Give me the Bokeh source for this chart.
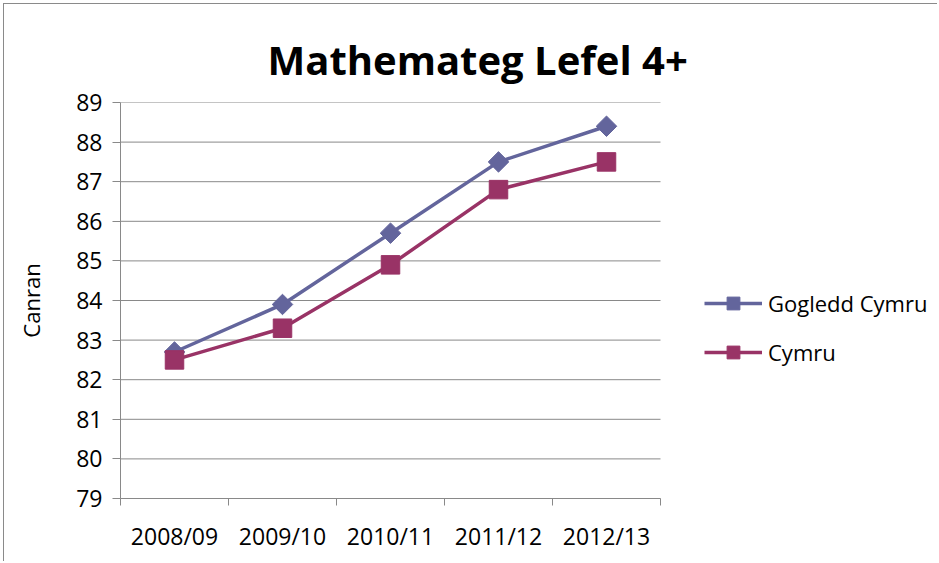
from bokeh.plotting import figure
from bokeh.models import (Range1d, FixedTicker, Legend, LegendItem, LinearAxis, InlineStyleSheet)
from bokeh.embed import file_html
from bokeh.resources import INLINE
import math

categories = ["2008/09", "2009/10", "2010/11", "2011/12", "2012/13"]
gogledd_cymru = [82.7, 83.9, 85.7, 87.5, 88.4]
cymru = [82.5, 83.3, 84.9, 86.8, 87.5]
y_ticks = [79, 80, 81, 82, 83, 84, 85, 86, 87, 88, 89]

FONT = "Open Sans"
GRID = "#898989"
C1 = "#63659C"
C2 = "#993366"

W, H = 934, 558
LEFT, TOP, BOTTOM = 116, 98, 64
PLOT_W = 540  # width of the data area in pixels
n = len(categories)
frame_w = W - LEFT
xs = [i + 0.5 for i in range(n)]

p = figure(width=W, height=H, output_backend="svg", toolbar_location=None,
           x_range=Range1d(0, n * frame_w / PLOT_W), y_range=Range1d(y_ticks[0], y_ticks[-1]),
           x_axis_type=None, y_axis_type=None, min_border=0,
           min_border_left=LEFT, min_border_right=0, min_border_top=TOP, min_border_bottom=BOTTOM)
p.outline_line_color = None
p.background_fill_color = "white"
p.border_fill_color = "white"
p.stylesheets = [InlineStyleSheet(css=":host { margin-left: 3px; margin-top: 3px; "
                                      "border-top: 1px solid #8a8a8a; border-left: 1px solid #8a8a8a; }")]

p.title.text = "Mathemateg Lefel 4+"
p.title.text_font = FONT
p.title.text_font_style = "bold"
p.title.text_font_size = "40px"
p.title.text_color = "black"
p.title.align = "left"
p.title.offset = 147
p.title.standoff = 31

yaxis = LinearAxis(ticker=FixedTicker(ticks=y_ticks, minor_ticks=[]))
yaxis.axis_label = "Canran"
yaxis.axis_label_text_font = FONT
yaxis.axis_label_text_font_size = "22px"
yaxis.axis_label_text_font_style = "normal"
yaxis.axis_label_text_color = "black"
yaxis.axis_label_standoff = 27
yaxis.major_label_text_font = FONT
yaxis.major_label_text_font_size = "23px"
yaxis.major_label_text_color = "black"
yaxis.major_label_standoff = 10
yaxis.major_tick_out = 8
yaxis.major_tick_in = 0
yaxis.minor_tick_out = 0
yaxis.minor_tick_in = 0
yaxis.axis_line_color = GRID
yaxis.major_tick_line_color = GRID
p.add_layout(yaxis, "left")

xaxis = LinearAxis(ticker=FixedTicker(ticks=xs, minor_ticks=list(range(n + 1))), bounds=(0, n))
xaxis.major_label_overrides = {x: c for x, c in zip(xs, categories)}
xaxis.major_label_text_font = FONT
xaxis.major_label_text_font_size = "23px"
xaxis.major_label_text_color = "black"
xaxis.major_label_standoff = 14
xaxis.major_tick_out = 0
xaxis.major_tick_in = 0
xaxis.minor_tick_out = 7
xaxis.minor_tick_in = 0
xaxis.minor_tick_line_color = GRID
xaxis.axis_line_color = GRID
p.add_layout(xaxis, "below")

# horizontal gridlines limited to the data area
p.segment(x0=[0] * len(y_ticks), x1=[n] * len(y_ticks), y0=y_ticks, y1=y_ticks,
          line_color=GRID, line_width=1)

l1 = p.line(xs, gogledd_cymru, line_color=C1, line_width=3.5)
m1 = p.scatter(xs, gogledd_cymru, marker="square", size=14.5, angle=math.pi / 4,
               fill_color=C1, line_color=C1)
l2 = p.line(xs, cymru, line_color=C2, line_width=3.5)
m2 = p.scatter(xs, cymru, marker="square", size=18.5, fill_color=C2, line_color=C2)

legend = Legend(items=[LegendItem(label="Gogledd Cymru", renderers=[l1, m1]),
                       LegendItem(label="Cymru", renderers=[l2, m2])],
                location=(584, 130))
legend.label_text_font = FONT
legend.label_text_font_size = "22px"
legend.label_text_color = "black"
legend.glyph_width = 58
legend.glyph_height = 32
legend.label_height = 32
legend.label_standoff = 6
legend.spacing = 17
legend.padding = 0
legend.margin = 0
legend.border_line_color = None
legend.background_fill_alpha = 0
p.add_layout(legend)

open("out.html", "w").write(file_html(p, INLINE))
